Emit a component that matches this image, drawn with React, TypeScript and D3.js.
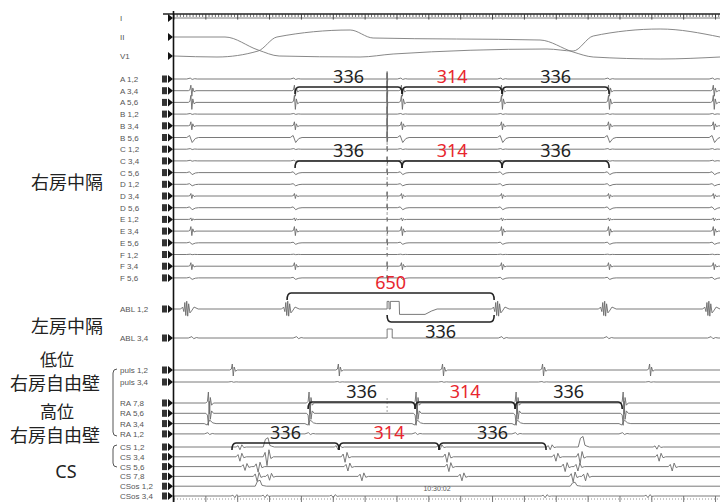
import React from 'react'
import * as d3 from 'd3'

type Pt = [number, number]

// sweep window (ms) and pacing stimulus time
const sweepMs = 1714
const stimMs = 669

// deflection templates: [ms offset, relative amplitude] (positive = up)
const shapes: Record<string, Pt[]> = {
  spike: [[-10, 0], [-5, 0.15], [-2, 1], [1, -1], [4, 0.5], [8, -0.2], [14, 0]],
  bump: [[-15, 0], [-4, 0.6], [2, -0.3], [10, 0.2], [18, 0]],
  dip: [[-15, 0], [-6, 0.4], [2, -1], [12, -0.2], [22, 0]],
  frac: [[-20, 0], [-14, 0.3], [-10, -0.4], [-7, 1], [-4, -1], [-1, 1.2], [2, -1.1], [5, 0.8], [9, -0.6], [14, -0.3], [22, 0.3], [35, 0]],
  cs: [[-12, 0], [-6, 0.5], [0, -1], [6, 0.8], [12, -0.2], [20, 0]],
  hump: [[-15, 0], [-8, 1], [0, 1.2], [6, 0.2], [12, 0.1], [20, 0]],
  stim: [[-1, 0], [0, 1], [1, -0.6], [2, 0]],
  ablPulse: [[0, 0], [0, 1.17], [6, 1.17], [6, 0], [10, 0], [10, 1.17], [38, 1.17], [39, -0.83], [119, -0.83], [140, -0.3], [157, 0]],
  narrowPulse: [[0, 0], [0, 1], [16, 1], [16, 0]],
}

// surface ECG (ms, mV)
const ecgNames = ['I', 'II', 'V1']
const leadII: Pt[] = [[0, 0], [160, 0], [264, -1.3], [330, -1.9], [584, -2.0], [688, -1.7], [1171, -1.2], [1253, -1.4], [1316, 0.1], [1526, 0.8], [1714, 0]]
const leadV1: Pt[] = [[0, 0], [135, -0.1], [264, 0.5], [323, 1.9], [553, 2.6], [625, 1.8], [1149, 1.6], [1253, 0.4], [1316, -0.1], [1526, -0.3], [1714, -0.1]]

// septal multipolar catheter
const septalNames = ['A 1,2', 'A 3,4', 'A 5,6', 'B 1,2', 'B 3,4', 'B 5,6', 'C 1,2', 'C 3,4', 'C 5,6', 'D 1,2', 'D 3,4', 'D 5,6', 'E 1,2', 'E 3,4', 'E 5,6', 'F 1,2', 'F 3,4', 'F 5,6']
const septalBeats = [55, 380, 716, 1030, 1366, 1695]
const septalAmp = [0.3, 1.1, 1.4, 0.2, 0.8, 1.0, 0.2, 0.2, 0.4, 0.3, 0.5, 0.4, 0.3, 0.9, 0.3, 0.1, 0.7, 0.3]
const septalShape = ['bump', 'spike', 'spike', 'bump', 'spike', 'dip', 'bump', 'bump', 'dip', 'dip', 'spike', 'dip', 'spike', 'spike', 'dip', 'bump', 'spike', 'dip']
const septalStim = [1.5, 2, 2, 1.5, 1.5, 1.2, 0.6, 0.8, 0.8, 0.5, 0.8, 0.8, 0.4, 0.8, 0.8, 0.3, 0.8, 0.5]

// ablation catheter
const ablNames = ['ABL 1,2', 'ABL 3,4']
const ablBeats = [41, 358, 1017, 1353, 1680]
const abl34Beats = [60, 389, 1033, 1363, 1690]

// low RA free wall
const pulsNames = ['puls 1,2', 'puls 3,4']
const pulsBeats = [185, 518, 845, 1159, 1495]

// high RA free wall
const raNames = ['RA 7,8', 'RA 5,6', 'RA 3,4', 'RA 1,2']
const raBeats = [110, 426, 762, 1076, 1412]
const raAmp = [2.2, -2.4, -0.7, 0.4]
const raShape = ['spike', 'spike', 'dip', 'bump']

// coronary sinus: [ms, amplitude, template]
const csNames = ['CS 1,2', 'CS 3,4', 'CS 5,6', 'CS 7,8', 'CSos 1,2', 'CSos 3,4']
const csEvents: [number, number, string][][] = [
  [[207, 0.5, 'cs'], [295, 1.4, 'hump'], [515, 0.5, 'cs'], [835, 0.5, 'cs'], [1181, 0.5, 'cs'], [1284, 1.6, 'hump'], [1516, 0.4, 'cs']],
  [[207, 0.8, 'cs'], [292, 1.6, 'cs'], [537, 1.0, 'cs'], [857, 1.0, 'cs'], [1199, 0.8, 'cs'], [1275, 1.2, 'cs'], [1523, 0.8, 'cs']],
  [[223, 0.7, 'cs'], [264, 1.0, 'cs'], [546, 0.8, 'cs'], [863, 0.9, 'cs'], [1228, 0.9, 'cs'], [1268, 0.8, 'cs'], [1564, 0.8, 'cs']],
  [[261, 0.9, 'cs'], [300, 0.7, 'cs'], [590, 0.8, 'cs'], [904, 0.8, 'cs'], [1253, 1.0, 'cs'], [1292, 0.8, 'cs']],
  [[270, 0.9, 'hump'], [1259, 0.6, 'hump']],
  [[191, 0.3, 'cs'], [286, 0.3, 'cs'], [500, 0.3, 'cs'], [1165, 0.3, 'cs'], [1488, 0.3, 'cs']],
]

// measured intervals (ms)
const septalStart = 380
const septalIntervals = [336, 314, 336]
const raStart = 421
const raIntervals = [336, 314, 336]
const csStart = 182
const csIntervals = [336, 314, 336]
const ablLongStart = 355
const ablLong = 650
const ablShort = 336
const redIntervals = [314, 650]

// region labels
const regionLabels = ['右房中隔', '左房中隔', '低位', '右房自由壁', '高位', '右房自由壁', 'CS']

function trace(events: [number, number, string][]): Pt[] {
  const pts: Pt[] = [[0, 0]]
  events.forEach(([t, a, s]) => shapes[s].forEach(([dt, v]) => pts.push([t + dt, a * v])))
  pts.push([sweepMs, 0])
  return pts.sort((p, q) => p[0] - q[0])
}

export default function App() {
  const W = 720
  const H = 502
  const T = d3.scaleLinear().domain([0, sweepMs]).range([174, 720])

  const rowY = new Map<string, number>()
  const place = (names: string[], y0: number, step: number) => names.forEach((n, i) => rowY.set(n, y0 + i * step))
  place(ecgNames, 18, 19)
  place(septalNames, 79, 11.7)
  place(ablNames, 309, 29)
  place(pulsNames, 370, 12)
  place(raNames, 403, 10.3)
  place(csNames, 447, 9.8)

  type Ch = { name: string; pts: Pt[]; gain: number; smooth?: boolean }
  const channels: Ch[] = [
    { name: 'I', pts: [[0, 0], [sweepMs, 0]], gain: 10 },
    { name: 'II', pts: leadII, gain: 10, smooth: true },
    { name: 'V1', pts: leadV1, gain: 10, smooth: true },
    ...septalNames.map((n, i) => ({
      name: n,
      gain: 5,
      pts: trace([
        ...septalBeats.map(t => [t, septalAmp[i], septalShape[i]] as [number, number, string]),
        [stimMs, septalStim[i], 'stim'],
      ]),
    })),
    { name: 'ABL 1,2', gain: 6.5, pts: trace([...ablBeats.map(t => [t, 1, 'frac'] as [number, number, string]), [stimMs, 1, 'ablPulse']]) },
    { name: 'ABL 3,4', gain: 9, pts: trace([...abl34Beats.map(t => [t, 0.25, 'bump'] as [number, number, string]), [stimMs, 1, 'narrowPulse']]) },
    { name: 'puls 1,2', gain: 5, pts: trace(pulsBeats.map(t => [t, 1.2, 'spike'])) },
    { name: 'puls 3,4', gain: 5, pts: trace(pulsBeats.map(t => [t, 0.15, 'bump'])) },
    ...raNames.map((n, i) => ({ name: n, gain: 5, pts: trace(raBeats.map(t => [t, raAmp[i], raShape[i]] as [number, number, string])) })),
    ...csNames.map((n, i) => ({ name: n, gain: 5.5, pts: trace(csEvents[i]) })),
  ]

  const pathFor = (c: Ch) => {
    const base = rowY.get(c.name)!
    const Y = d3.scaleLinear().domain([-1, 1]).range([base + c.gain, base - c.gain])
    const line = d3.line<Pt>().x(d => T(d[0])).y(d => Y(d[1]))
    if (c.smooth) line.curve(d3.curveMonotoneX)
    return line(c.pts) || ''
  }

  // bracket series: tick direction 1 = down, -1 = up
  const bracket = (x0: number, x1: number, y: number, dir: number) => {
    const h = 7 * dir
    const r = 4
    return `M${x0},${y + h} Q${x0},${y} ${x0 + r},${y} L${x1 - r},${y} Q${x1},${y} ${x1},${y + h}`
  }
  type Seg = { a: number; b: number; v: number; y: number; dir: number; ty: number }
  const segs: Seg[] = []
  const chain = (start: number, ivs: number[], y: number) => {
    let t = start
    ivs.forEach(v => {
      segs.push({ a: t, b: t + v, v, y, dir: 1, ty: y - 4 })
      t += v
    })
  }
  chain(septalStart, septalIntervals, 87)
  chain(septalStart, septalIntervals, 161)
  chain(raStart, raIntervals, 402)
  chain(csStart, csIntervals, 443)
  segs.push({ a: ablLongStart, b: ablLongStart + ablLong, v: ablLong, y: 293, dir: 1, ty: 289 })
  segs.push({ a: stimMs, b: stimMs + ablShort, v: ablShort, y: 322, dir: -1, ty: 338 })

  const rulerTicks = d3.range(0, sweepMs, 10)
  const boxed = new Set(['I', 'II', 'V1'])

  // centre x, baseline y, font size
  const labelPos: [number, number, number][] = [[67, 189, 18], [67, 333, 18], [57, 366, 17], [55, 390, 18], [57, 418, 17], [55, 442, 18], [66, 478, 18]]

  return (
    <svg width={W} height={H} style={{ position: 'absolute', left: 0, top: 0, background: '#fff' }}>
      <rect width={W} height={H} fill="#fff" />

      {/* top time ruler */}
      <line x1={163} x2={W} y1={14} y2={14} stroke="#222" strokeWidth={1.4} />
      {rulerTicks.map(t => (
        <line key={'rt' + t} x1={T(t)} x2={T(t)} y1={14} y2={t % 100 === 0 ? 19.5 : 17} stroke="#333" strokeWidth={t % 100 === 0 ? 1 : 0.7} />
      ))}

      {/* bottom ruler */}
      <line x1={174} x2={W} y1={499} y2={499} stroke="#777" strokeWidth={0.8} strokeDasharray="1 2" />
      {rulerTicks.filter(t => t % 100 === 0).map(t => (
        <line key={'rb' + t} x1={T(t)} x2={T(t)} y1={496} y2={502} stroke="#555" strokeWidth={0.8} />
      ))}
      <text x={437} y={491} fontSize={7} fontFamily="Liberation Sans" fill="#555" textAnchor="middle">10:30:02</text>

      {/* stimulus artifact line */}
      <line x1={T(stimMs)} x2={T(stimMs)} y1={73} y2={142} stroke="#555" strokeWidth={1.1} />
      <line x1={T(stimMs)} x2={T(stimMs)} y1={142} y2={283} stroke="#888" strokeWidth={0.8} strokeDasharray="3 4" />
      <line x1={T(stimMs)} x2={T(stimMs)} y1={398} y2={412} stroke="#888" strokeWidth={0.8} strokeDasharray="2 2" />

      {/* traces */}
      {channels.map(c => (
        <path key={c.name} d={pathFor(c)} fill="none" stroke={c.smooth ? '#7a7a7a' : '#6b6b6b'} strokeWidth={0.9} />
      ))}

      {/* channel labels and markers */}
      {channels.map(c => {
        const y = rowY.get(c.name)!
        return (
          <g key={'lab' + c.name}>
            <text x={120} y={y + 3} fontSize={8} fontFamily="Liberation Sans" fill="#555">{c.name}</text>
            {!boxed.has(c.name) && <rect x={162} y={y - 3.5} width={5} height={7} fill="#333" />}
            <path d={`M168,${y - 4}L173,${y}L168,${y + 4}Z`} fill="#111" />
          </g>
        )
      })}

      {/* left axis */}
      <line x1={173.5} x2={173.5} y1={11} y2={H} stroke="#111" strokeWidth={1.6} />

      {/* interval brackets */}
      {segs.map((s, i) => (
        <g key={'br' + i}>
          <path d={bracket(T(s.a), T(s.b), s.y, s.dir)} fill="none" stroke="#222" strokeWidth={1.6} />
          <text x={(T(s.a) + T(s.b)) / 2} y={s.ty} fontSize={18} fontFamily="Noto Sans" textAnchor="middle"
            fill={redIntervals.includes(s.v) ? '#e8262e' : '#222'}>{s.v}</text>
        </g>
      ))}

      {/* group braces */}
      <path d="M117,369 Q113,369 113,373 L113,432 Q113,436 117,436" fill="none" stroke="#555" strokeWidth={1} />
      <path d="M117,445 Q113,445 113,449 L113,463 Q113,467 117,467" fill="none" stroke="#555" strokeWidth={1} />

      {/* region labels */}
      {regionLabels.map((s, i) => (
        <text key={'rg' + i} x={labelPos[i][0]} y={labelPos[i][1]} fontSize={labelPos[i][2]}
          fontFamily={s === 'CS' ? 'Noto Sans' : 'Noto Sans CJK JP'} fill="#222" textAnchor="middle">{s}</text>
      ))}
    </svg>
  )
}
